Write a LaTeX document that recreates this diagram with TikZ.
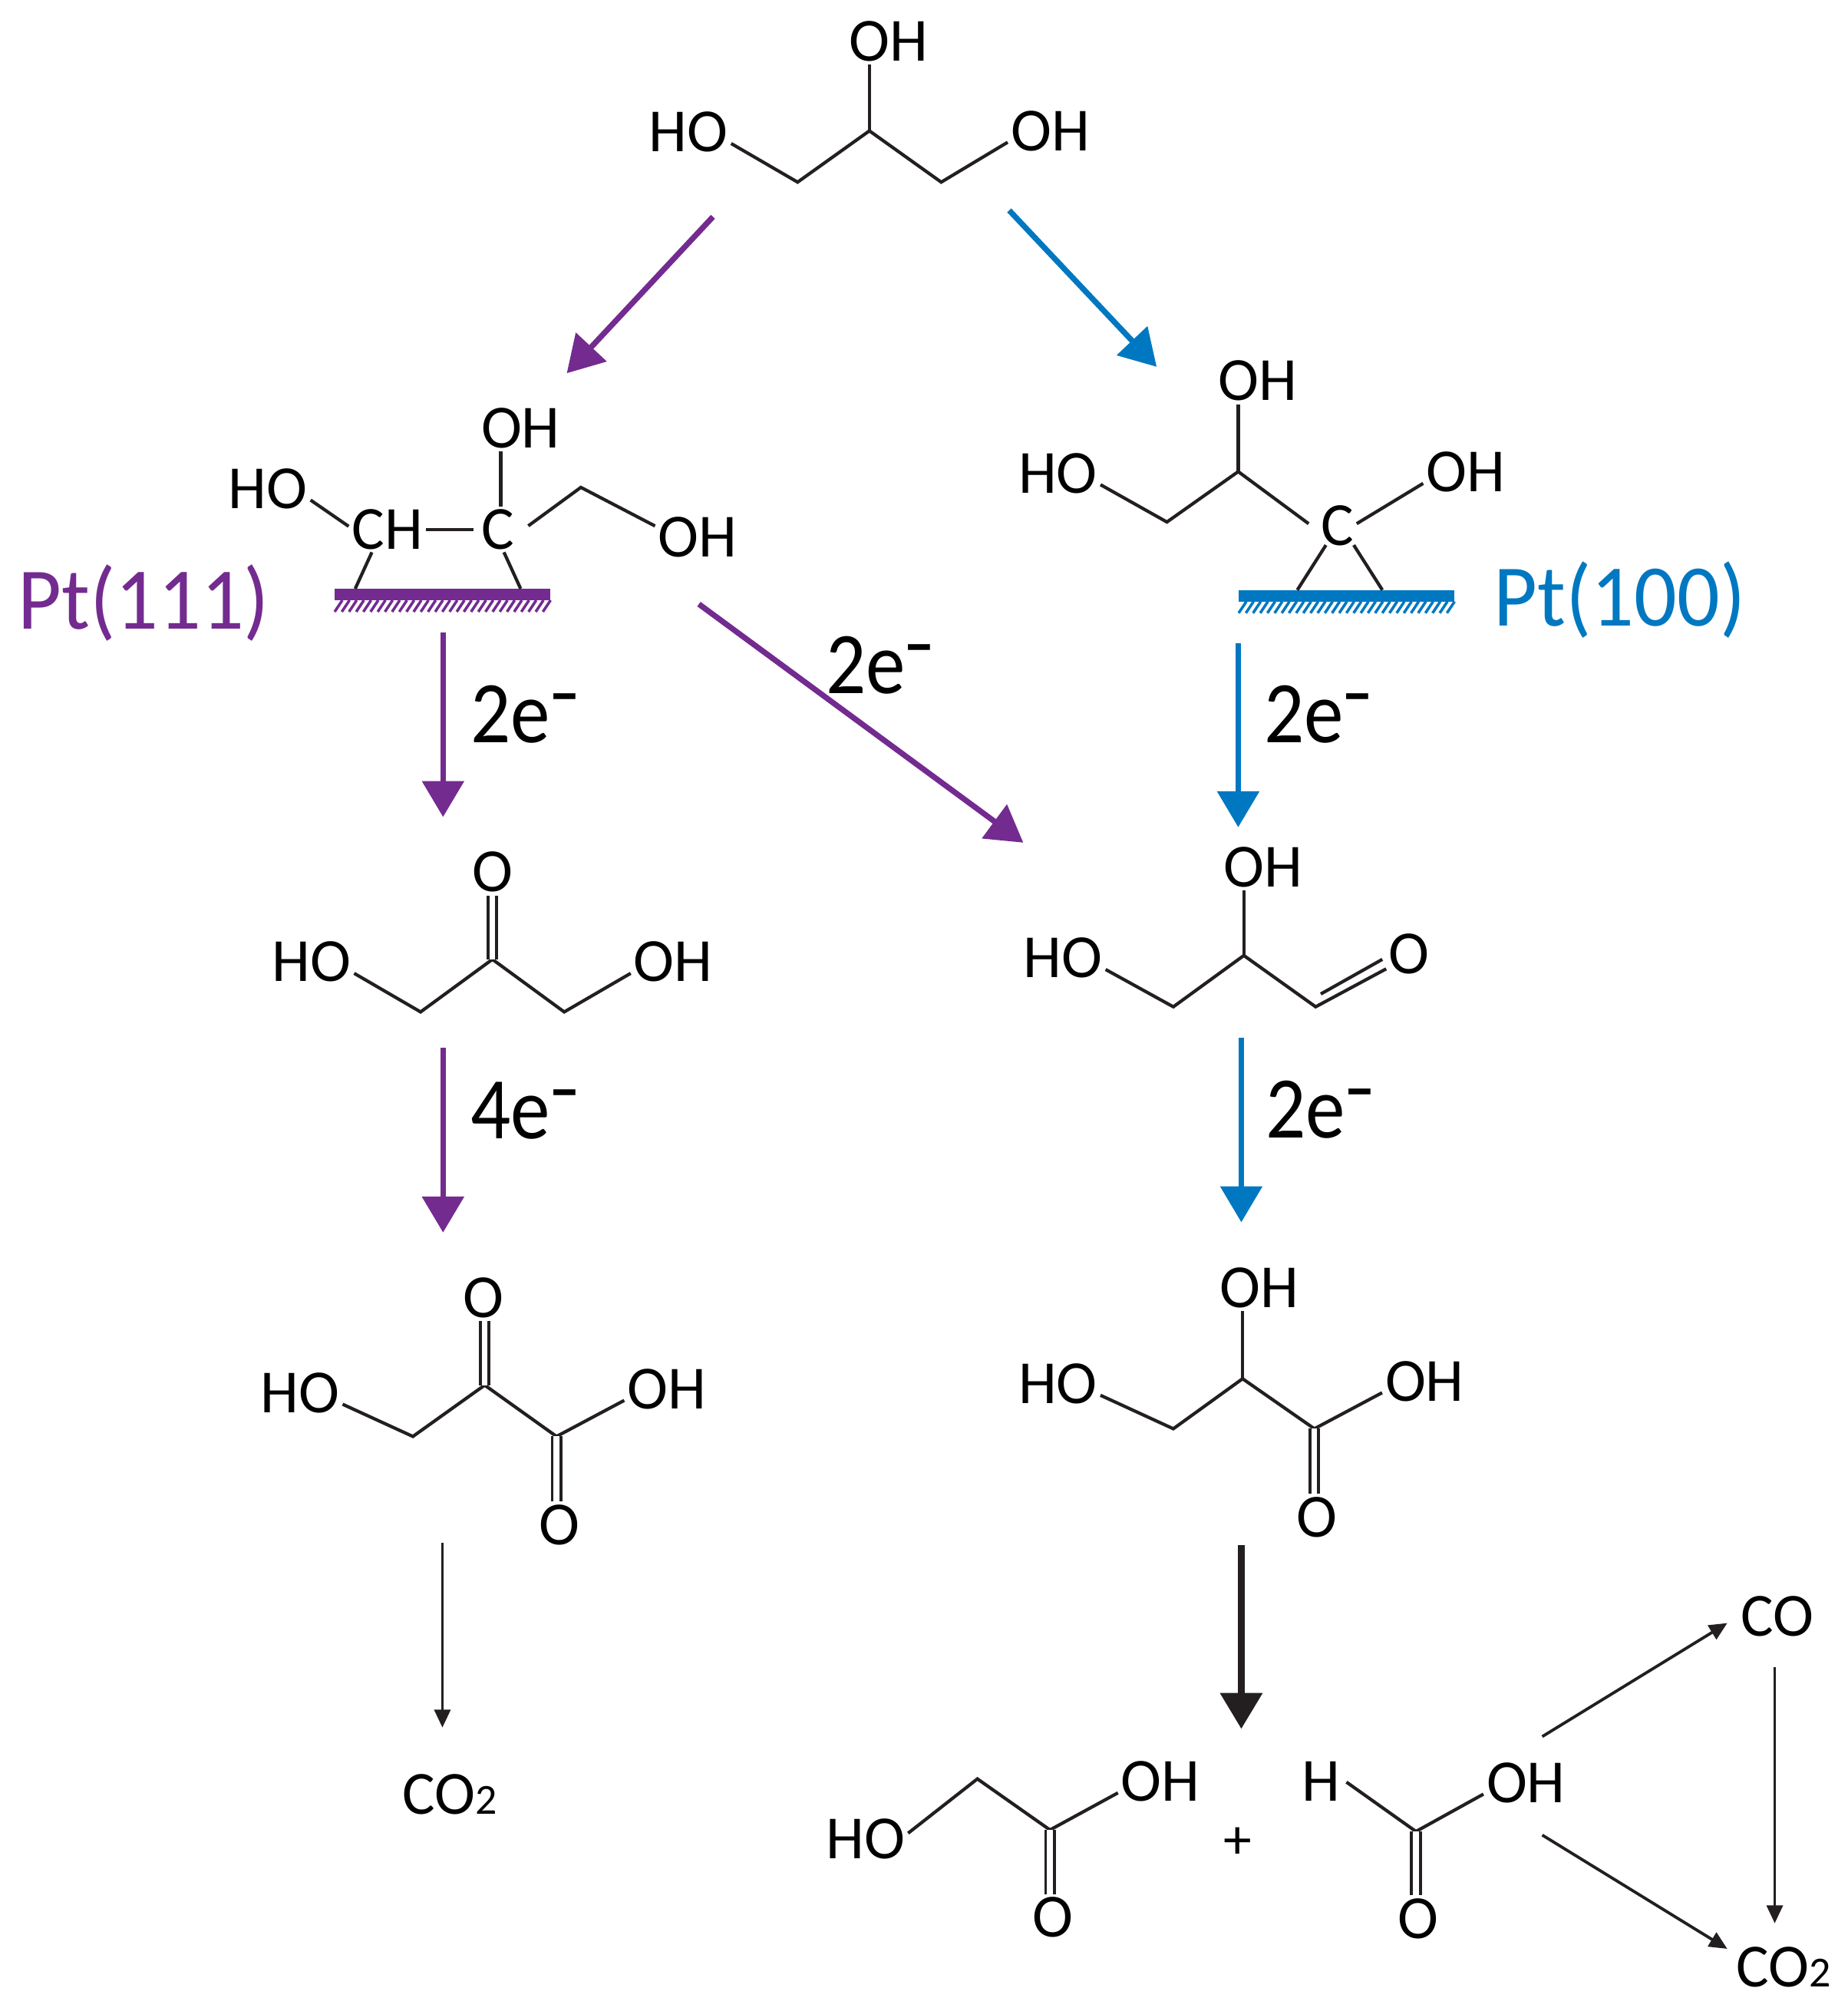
\documentclass[tikz,border=0pt]{standalone}
\usepackage{fontspec}
\setmainfont{Carlito}
\newfontfamily\elecfont[FakeStretch=0.9]{Carlito}
\newfontfamily\facetfont[FakeStretch=0.96]{Carlito}
\usepackage{tikz}
\usetikzlibrary{calc}
\usetikzlibrary{arrows.meta}
\definecolor{ptpurple}{HTML}{732B90}
\definecolor{ptblue}{HTML}{0078C1}
\definecolor{inkblack}{HTML}{231F20}
\newcommand{\elec}[1]{#1e\raisebox{5.8pt}{\fontsize{14}{14}\selectfont\bfseries −}}
\newcommand{\cotwo}{CO{\fontsize{9.5}{9.5}\selectfont 2}}
\tikzset{atom/.style={inner sep=0.5pt, font=\fontsize{13.6}{14}\selectfont},
        bond/.style={draw=inkblack, line width=0.72pt},
        dbond/.style={draw=inkblack, line width=0.65pt, double=white, double distance=0.045cm},
        elabel/.style={anchor=base west, inner sep=0pt, font=\elecfont\fontsize{19.5}{20}\selectfont},
        facet/.style={anchor=base, inner sep=0pt, font=\facetfont\fontsize{19.5}{20}\selectfont},
        surf/.style={minimum width=1.68cm, minimum height=0.09cm, inner sep=0pt, outer sep=0pt},
        hatch/.style={line width=0.6pt},
        thickarr/.style={line width=1.25pt, -{Triangle[length=2.8mm, width=3.2mm]}},
        boldarr/.style={draw=inkblack, fill=inkblack, line width=1.5pt, -{Triangle[length=2.8mm, width=3.2mm]}},
        thinarr/.style={draw=inkblack, line width=0.65pt, -{Triangle[length=1.4mm, width=1.25mm]}}}
\begin{document}
\begin{tikzpicture}[x=0.01cm, y=-0.01cm]
    \useasboundingbox (0,0) rectangle (1441,1568);

    % Atom labels of all the molecules
    \foreach \n/\x/\y/\t in {gtop/693/32/OH, gleft/537/103/HO, gright/819/102/OH,
        pa/406/334/OH, pb/209/381/HO, pch/302/413/CH, pc/388/413/C, pd/544/419/OH,
        ba/981/297/OH, bb/825/369/HO, bc/1143/368/OH, bd/1043/410/C,
        da/384/680/O, db/243/750/HO, dc/525/750/OH,
        ha/377/1012/O, hb/234/1086/HO, hc/520/1083/OH, hd/436/1189/O,
        ya/985/676/OH, yb/829/747/HO, yc/1099/744/O,
        ra/982/1004/OH, rb/825/1079/HO, rc/1111/1077/OH, rd/1027/1183/O,
        ka/675/1434/HO, kb/905/1389/OH, kc/821/1495/O,
        fa/1030/1389/H, fb/1190/1390/OH, fc/1106/1496/O,
        cofin/1386/1260/CO}
      \node[atom] (\n) at (\x,\y) {\t};
    \node[atom, font=\fontsize{12.5}{13}\selectfont] (plus) at (965,1437) {+};
    \node[atom] (coleft) at (351,1399) {\cotwo};
    \node[atom] (coright) at (1391,1534) {\cotwo};

    % Carbon positions in the skeletons
    \foreach \n/\x/\y in {g1/622/142, g2/678/102, g3/734/142,
        p1/453/380, b1/910/407, b2/965.6/367.7,
        d1/328/789, d2/384/748, d3/440/789,
        h1/322/1120, h2/378/1080, h3/434/1120,
        y1/915/785, y2/970/745, y3/1026/785,
        r1/915/1114, r2/969/1075, r3/1025/1114,
        k1/762.2/1387, k2/818.8/1426.8, f1/1104.2/1428}
      \coordinate (\n) at (\x,\y);

    % Bond ends that stop short of a lone C or H
    \foreach \n/\x/\y in {pca/369/413, pcb/390.5/395, pcc/412/410, pcd/393/430.6, pce/290/430.6,
        bda/1020.5/408.3, bdb/1058/408.3, bdc/1034/425, bdd/1055.7/425,
        fae/1050/1389.5, yda/1081/755.4, ydb/1030/775, ydc/1078/748}
      \coordinate (\n) at (\x,\y);

    % Skeleton bonds
    \draw[bond] (gleft.-15) -- (g1) -- (g2) -- (g3) -- (gright.195);
    \draw[bond] (g2) -- (g2 |- gtop.south);
    \draw[bond] (pb.-15) -- (pch.175);
    \draw[bond] (pch.east) -- (pca);
    \draw[bond] (pcc) -- (p1) -- (pd.165);
    \draw[bond] (pcb) -- (pcb |- pa.south);
    \draw[bond] (bb.-15) -- (b1) -- (b2) -- (bda);
    \draw[bond] (b2) -- (b2 |- ba.south);
    \draw[bond] (bdb) -- (bc.195);
    \draw[bond] (db.-15) -- (d1) -- (d2) -- (d3) -- (dc.195);
    \draw[bond] (hb.-15) -- (h1) -- (h2) -- (h3) -- (hc.195);
    \draw[bond] (yb.-15) -- (y1) -- (y2) -- (y3) -- (yda);
    \draw[bond] (ydb) -- (ydc);
    \draw[bond] (y2) -- (y2 |- ya.south);
    \draw[bond] (rb.-15) -- (r1) -- (r2) -- (r3) -- (rc.195);
    \draw[bond] (r2) -- (r2 |- ra.south);
    \draw[bond] (ka.8) -- (k1) -- (k2) -- (kb.195);
    \draw[bond] (fae) -- (f1) -- (fb.195);

    % Double bonds to oxygen
    \draw[dbond] (d2) -- (d2 |- da.south);
    \draw[dbond] (h2) -- (h2 |- ha.south);
    \draw[dbond] (h3) -- (h3 |- hd.north);
    \draw[dbond] (r3) -- (r3 |- rd.north);
    \draw[dbond] (k2) -- (k2 |- kc.north);
    \draw[dbond] (f1) -- (f1 |- fc.north);

    % Surfaces with their hatching
    \node[surf, fill=ptpurple] (s111) at (345,463.5) {};
    \node[surf, fill=ptblue] (s100) at (1050,464.5) {};
    \foreach \i in {0,...,29} {
      \draw[hatch, ptpurple] ($(s111.south west)+(\i*5.6+6,0)$) -- ++(-6,9);
      \draw[hatch, ptblue] ($(s100.south west)+(\i*5.6+6,0)$) -- ++(-6,9);
    }

    % Links from the adsorbed carbons down to the surface
    \coordinate (lega) at (277,459);
    \coordinate (legb) at (406,459);
    \coordinate (legc) at (1011.7,460);
    \coordinate (legd) at (1078,460);
    \draw[bond] (pce) -- (lega);
    \draw[bond] (pcd) -- (legb);
    \draw[bond] (bdc) -- (legc);
    \draw[bond] (bdd) -- (legd);

    % Surface names
    \node[facet, text=ptpurple] (name111) at (112,490.5) {Pt(111)};
    \node[facet, text=ptblue] (name100) at (1263,488) {Pt(100)};

    % Electron counts
    \node[elabel] (ea) at (366.5,579) {\elec{2}};
    \node[elabel] (eb) at (643.5,541) {\elec{2}};
    \node[elabel] (ec) at (985,579) {\elec{2}};
    \node[elabel] (ed) at (366.5,888) {\elec{4}};
    \node[elabel] (ee) at (986.5,887) {\elec{2}};

    % Ends of the reaction arrows
    \foreach \n/\x/\y in {aa/556/169, ab/442/291, ac/787/164, ad/902/286,
        ae/345.5/493, af/345.5/637, ag/545/471, ah/798/657,
        ai/965.6/501.7, aj/965.6/645, ak/345.5/817, al/345.5/961,
        am/968/809, an/968/953, ao/345/1203, ap/345/1347,
        aq/968/1204.5, ar/968/1348, as/1202.7/1354, at/1347/1265.5,
        au/1202.7/1430.8, av/1347/1519.5, aw/1384/1300, ax/1384/1499.6}
      \coordinate (\n) at (\x,\y);

    \foreach \s/\e in {aa/ab, ae/af, ag/ah, ak/al}
      \draw[thickarr, ptpurple] (\s) -- (\e);
    \foreach \s/\e in {ac/ad, ai/aj, am/an}
      \draw[thickarr, ptblue] (\s) -- (\e);
    \draw[boldarr] (aq) -- (ar);
    \foreach \s/\e in {ao/ap, as/at, au/av, aw/ax}
      \draw[thinarr] (\s) -- (\e);
\end{tikzpicture}
\end{document}
